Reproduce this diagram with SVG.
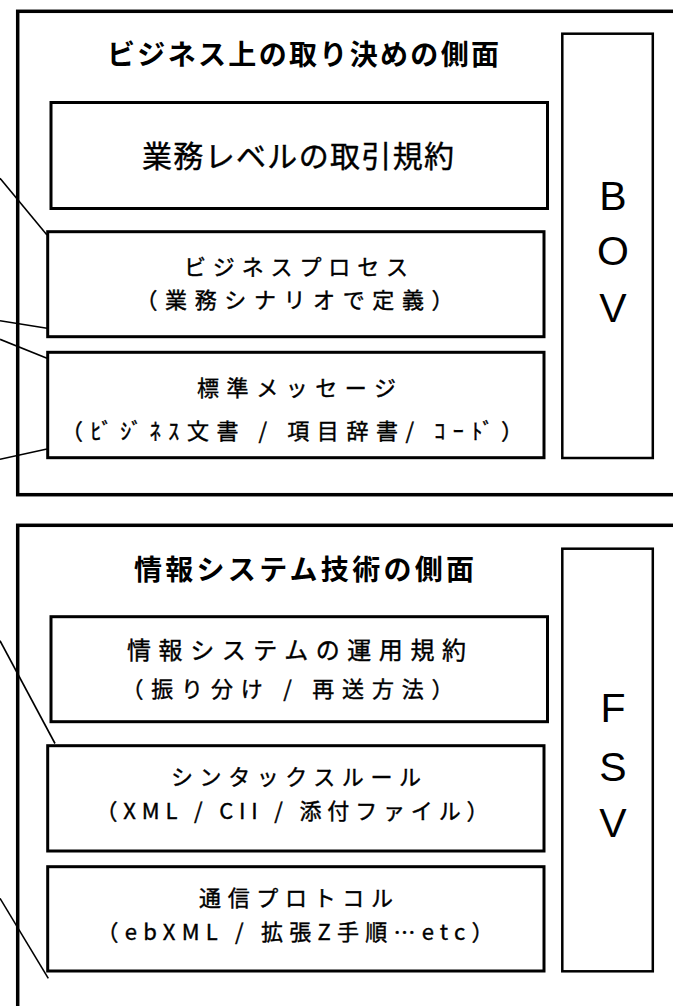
<svg xmlns="http://www.w3.org/2000/svg" width="673" height="1006" viewBox="0 0 673 1006">
<style>
.frame{fill:none;stroke:#000;stroke-width:3.5}
.box{fill:#fff;stroke:#000;stroke-width:3}
.side{fill:#fff;stroke:#000;stroke-width:2.5}
.conn line{stroke:#000;stroke-width:1.6;fill:none}
.t{font-family:"Noto Sans CJK JP","Noto Sans CJK SC",sans-serif;fill:#000;text-anchor:middle}
.title{font-size:28px;font-weight:bold}
.big{font-size:30px;stroke:#000;stroke-width:0.4}
.m{font-size:24px;stroke:#000;stroke-width:0.4}
.b{font-size:22px;stroke:#000;stroke-width:0.4}
.let{font-family:"Liberation Sans",Arial,sans-serif;font-size:41px;fill:#000;text-anchor:middle}
</style>
<rect width="673" height="1006" fill="#fff"/>
<g id="frame-bov"><rect class="frame" x="17.7" y="11.3" width="700" height="483.4"/></g>
<g id="frame-fsv"><rect class="frame" x="17.7" y="525.3" width="700" height="520"/></g>
<g id="connectors" class="conn">
<line x1="0" y1="178.3" x2="47" y2="235"/>
<line x1="0" y1="320.7" x2="47" y2="328.3"/>
<line x1="0" y1="339.3" x2="47" y2="358.3"/>
<line x1="0" y1="459.3" x2="47" y2="449"/>
<line x1="0" y1="640.7" x2="55" y2="743.5"/>
<line x1="0" y1="898.3" x2="48.3" y2="978.3"/>
</g>
<g id="title-bov"><text class="t title" x="303" y="65" textLength="392" lengthAdjust="spacing">ビジネス上の取り決めの側面</text></g>
<g id="node-torihiki">
<rect class="box" x="51" y="102.5" width="496.5" height="106"/>
<text class="t big" x="298" y="167" textLength="312" lengthAdjust="spacing">業務レベルの取引規約</text>
</g>
<g id="node-process">
<rect class="box" x="47.7" y="231.7" width="496.3" height="105"/>
<text class="t b" x="296" y="275" textLength="224" lengthAdjust="spacing">ビジネスプロセス</text>
<text class="t b" x="294.5" y="307.5" textLength="318" lengthAdjust="spacing">（業務シナリオで定義）</text>
</g>
<g id="node-message">
<rect class="box" x="47.7" y="352.3" width="496.3" height="105.4"/>
<text class="t b" x="296.5" y="395.5" textLength="199" lengthAdjust="spacing">標準メッセージ</text>
<text class="t b" x="292" y="438.5" textLength="462" lengthAdjust="spacing">（ﾋﾞｼﾞﾈｽ文書 / 項目辞書/ ｺｰﾄﾞ）</text>
</g>
<g id="node-bov">
<rect class="side" x="562.3" y="33.7" width="90.5" height="424.3"/>
<text class="let" x="613" y="210">B</text>
<text class="let" x="613" y="265">O</text>
<text class="let" x="613" y="322">V</text>
</g>
<g id="title-fsv"><text class="t title" x="304" y="580" textLength="340" lengthAdjust="spacing">情報システム技術の側面</text></g>
<g id="node-unyo">
<rect class="box" x="51" y="616.7" width="496.5" height="105"/>
<text class="t m" x="296.5" y="658.5" textLength="339" lengthAdjust="spacing">情報システムの運用規約</text>
<text class="t b" x="287.5" y="696.5" textLength="332" lengthAdjust="spacing">（振り分け / 再送方法）</text>
</g>
<g id="node-syntax">
<rect class="box" x="47.7" y="745.7" width="496.3" height="105.3"/>
<text class="t b" x="296" y="784.5" textLength="250" lengthAdjust="spacing">シンタックスルール</text>
<text class="t b" x="292" y="818.5" textLength="393" lengthAdjust="spacing">（XML / CII / 添付ファイル）</text>
</g>
<g id="node-protocol">
<rect class="box" x="47.7" y="866.7" width="496.3" height="104.3"/>
<text class="t b" x="296" y="905.5" textLength="194" lengthAdjust="spacing">通信プロトコル</text>
<text class="t b" x="295" y="940" textLength="397" lengthAdjust="spacing">（ebXML / 拡張Z手順…etc）</text>
</g>
<g id="node-fsv">
<rect class="side" x="562.3" y="548.7" width="90.5" height="422.6"/>
<text class="let" x="613" y="722">F</text>
<text class="let" x="613" y="781">S</text>
<text class="let" x="613" y="837">V</text>
</g>
</svg>
